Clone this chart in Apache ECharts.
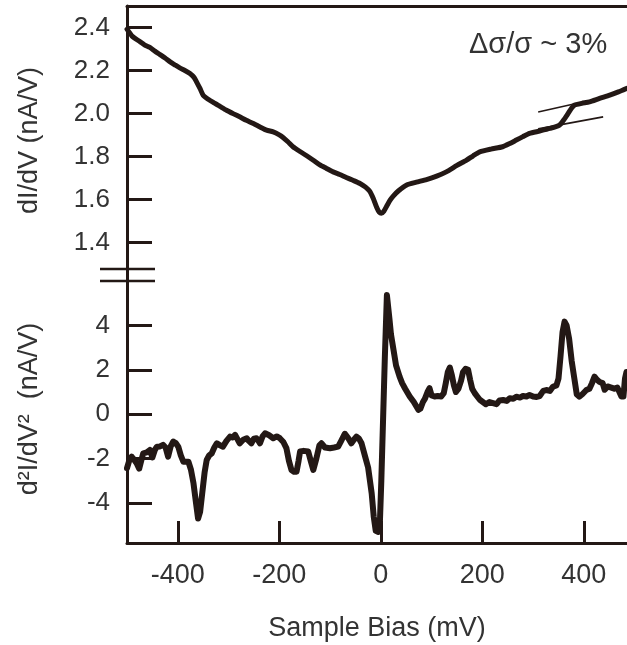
<!DOCTYPE html>
<html>
<head>
<meta charset="utf-8">
<script src="https://cdn.jsdelivr.net/npm/echarts@6/dist/echarts.min.js"></script>
<style>
html,body{margin:0;padding:0;background:#fff;}
#chart{width:627px;height:645px;}
</style>
</head>
<body>
<div id="chart"></div>
<script>
// Top panel: dI/dV (nA/V) vs sample bias (mV)
const biasTop = [-500,-490,-474,-465,-455,-445,-435,-425,-415,-405,-396,-386,-376,-368,-363,-356,-350,-340,-330,-317,-304,-290,-278,-265,-251,-238,-225,-212,-200,-192,-183,-173,-160,-146,-133,-120,-107,-94,-81,-68,-55,-41,-30,-22,-15,-8,-3,1,6,12,18,24,35,51,70,90,110,129,150,169,182,195,217,240,254,267,280,293,313,333,352,361,369,376,382,396,411,431,451,468,485];
const didv = [2.392,2.360,2.333,2.318,2.307,2.290,2.274,2.258,2.240,2.225,2.212,2.200,2.186,2.168,2.147,2.115,2.085,2.066,2.051,2.033,2.015,1.998,1.984,1.968,1.953,1.937,1.922,1.914,1.900,1.887,1.868,1.845,1.824,1.803,1.782,1.760,1.744,1.728,1.716,1.702,1.689,1.674,1.657,1.638,1.605,1.562,1.540,1.535,1.545,1.570,1.595,1.614,1.640,1.667,1.680,1.692,1.708,1.728,1.758,1.783,1.803,1.821,1.834,1.845,1.860,1.876,1.892,1.907,1.918,1.930,1.946,1.972,2.000,2.025,2.039,2.047,2.054,2.070,2.085,2.100,2.117];

// Tangent guide lines (bias, dI/dV)
const guideLowBias = [310, 438];
const guideLowVal = [1.928, 1.984];
const guideHighBias = [310, 400];
const guideHighVal = [2.007, 2.054];

// Bottom panel: d2I/dV2 (nA/V) vs sample bias (mV)
const biasBot = [-500,-495,-491,-486,-481,-476,-472,-468,-461,-455,-450,-445,-441,-435,-429,-424,-419,-414,-409,-404,-399,-394,-389,-379,-374,-369,-364,-360,-356,-352,-347,-343,-338,-333,-328,-323,-317,-311,-304,-297,-292,-287,-283,-278,-271,-264,-260,-255,-250,-245,-241,-238,-233,-228,-220,-212,-205,-199,-192,-186,-181,-176,-171,-166,-162,-159,-152,-143,-138,-133,-127,-121,-117,-110,-100,-92,-84,-78,-71,-65,-58,-53,-48,-43,-38,-31,-25,-18,-14,-10,-5,-2,1,4,8,12,14,17,20,25,30,37,42,48,57,65,74,78,83,87,92,96,100,106,112,119,124,128,132,136,140,144,148,153,158,162,167,172,176,180,185,190,195,201,207,214,221,228,234,241,248,254,261,267,274,280,287,293,300,307,313,320,326,333,339,346,350,354,358,362,366,371,376,381,386,391,397,405,411,416,421,426,431,437,441,447,454,460,466,470,474,478,481,484];
const d2idv2 = [-2.43,-2.05,-1.91,-2.05,-2.21,-2.45,-2.1,-1.76,-1.72,-1.61,-1.95,-1.6,-1.46,-1.45,-1.38,-1.5,-1.91,-1.45,-1.23,-1.3,-1.46,-1.85,-2.14,-2.14,-2.5,-3.11,-4.0,-4.7,-4.4,-3.6,-2.6,-2.06,-1.85,-1.76,-1.5,-1.31,-1.4,-1.46,-1.2,-1.01,-1.05,-0.93,-1.1,-1.31,-1.15,-1.08,-1.2,-1.31,-1.1,-1.08,-1.2,-1.31,-1.0,-0.86,-0.95,-1.08,-1.0,-1.08,-1.25,-1.53,-2.1,-2.51,-2.59,-2.59,-2.1,-1.68,-1.65,-1.68,-2.1,-2.51,-2.0,-1.4,-1.31,-1.5,-1.53,-1.5,-1.46,-1.2,-0.88,-1.05,-1.31,-1.15,-1.01,-1.1,-1.31,-1.9,-2.4,-3.56,-4.6,-5.25,-5.3,-5.0,-3.0,-0.6,2.6,5.37,5.3,4.3,3.6,2.9,2.2,1.69,1.4,1.15,0.8,0.55,0.2,0.25,0.55,0.7,1.0,1.17,0.85,0.8,0.82,0.8,0.95,1.4,1.9,2.1,1.75,1.3,1.0,1.15,1.5,1.9,2.05,2.0,1.55,1.15,0.95,0.8,0.65,0.55,0.45,0.55,0.5,0.45,0.62,0.64,0.6,0.72,0.7,0.79,0.75,0.82,0.8,0.87,0.8,0.78,0.82,1.05,1.09,1.05,1.24,1.3,1.6,2.6,3.7,4.17,4.0,3.4,2.4,1.65,0.9,0.79,0.9,1.09,1.15,1.4,1.69,1.55,1.45,1.4,1.1,1.25,1.2,1.15,1.2,1.0,0.8,0.8,1.6,1.9];

// Axis ticks / labels
const xTicks = [-400, -200, 0, 200, 400];
const yTopTicks = [1.4, 1.6, 1.8, 2.0, 2.2, 2.4];
const yBotTicks = [-4, -2, 0, 2, 4];

const INK = '#231815';
const TXT = '#333333';
const FONT = 'Liberation Sans';

const zip = (a, b) => a.map((v, i) => [v, b[i]]);

const chart = echarts.init(document.getElementById('chart'), null, {renderer: 'canvas'});
chart.setOption({
  animation: false,
  backgroundColor: '#ffffff',
  textStyle: {fontFamily: FONT, color: TXT},
  grid: [
    {left: 127, right: 0, top: 6, height: 269},
    {left: 127, right: 0, top: 275, height: 268}
  ],
  xAxis: [
    {
      gridIndex: 0, type: 'value', min: -500, max: 485, position: 'top',
      axisLine: {onZero: false, lineStyle: {color: INK, width: 3}},
      axisTick: {show: false}, axisLabel: {show: false}, splitLine: {show: false}
    },
    {
      gridIndex: 1, type: 'value', min: -500, max: 485, position: 'bottom',
      axisLine: {onZero: false, lineStyle: {color: INK, width: 3}},
      axisTick: {inside: true, length: 22, lineStyle: {color: INK, width: 3}, customValues: xTicks},
      axisLabel: {customValues: xTicks, fontSize: 27, margin: 19, color: TXT, fontFamily: FONT},
      splitLine: {show: false},
      name: 'Sample Bias (mV)', nameLocation: 'middle', nameGap: 72,
      nameTextStyle: {fontSize: 27, color: TXT, fontFamily: FONT}
    }
  ],
  yAxis: [
    {
      gridIndex: 0, type: 'value', min: 1.248, max: 2.5,
      axisLine: {onZero: false, lineStyle: {color: INK, width: 3}},
      axisTick: {inside: true, length: 25, lineStyle: {color: INK, width: 3}, customValues: yTopTicks},
      axisLabel: {customValues: yTopTicks, formatter: v => v.toFixed(1), fontSize: 26, margin: 17, color: TXT, fontFamily: FONT},
      splitLine: {show: false},
      name: 'dI/dV (nA/V)', nameLocation: 'middle', nameGap: 84, nameRotate: 90,
      nameTextStyle: {fontSize: 27, color: TXT, fontFamily: FONT}
    },
    {
      gridIndex: 1, type: 'value', min: -5.8, max: 6.27,
      axisLine: {onZero: false, lineStyle: {color: INK, width: 3}},
      axisTick: {inside: true, length: 25, lineStyle: {color: INK, width: 3}, customValues: yBotTicks},
      axisLabel: {customValues: yBotTicks, fontSize: 26, margin: 17, color: TXT, fontFamily: FONT},
      splitLine: {show: false},
      name: 'd\u00b2I/dV\u00b2  (nA/V)', nameLocation: 'middle', nameGap: 84, nameRotate: 90,
      nameTextStyle: {fontSize: 27, color: TXT, fontFamily: FONT}
    }
  ],
  series: [
    {
      type: 'line', xAxisIndex: 0, yAxisIndex: 0, data: zip(biasTop, didv),
      showSymbol: false, smooth: 0.2, lineStyle: {color: INK, width: 5, join: 'round', cap: 'round'}
    },
    {
      type: 'line', xAxisIndex: 0, yAxisIndex: 0, data: zip(guideLowBias, guideLowVal),
      showSymbol: false, lineStyle: {color: INK, width: 1.6}
    },
    {
      type: 'line', xAxisIndex: 0, yAxisIndex: 0, data: zip(guideHighBias, guideHighVal),
      showSymbol: false, lineStyle: {color: INK, width: 1.6}
    },
    {
      type: 'line', xAxisIndex: 1, yAxisIndex: 1, data: zip(biasBot, d2idv2),
      showSymbol: false, lineStyle: {color: INK, width: 6, join: 'round', cap: 'round'}
    }
  ],
  graphic: [
    {type: 'line', shape: {x1: 100, y1: 269, x2: 155, y2: 269}, style: {stroke: INK, lineWidth: 2.5}},
    {type: 'line', shape: {x1: 100, y1: 281, x2: 155, y2: 281}, style: {stroke: INK, lineWidth: 2.5}},
    {type: 'text', x: 469, y: 45, style: {text: '\u0394\u03c3/\u03c3 ~ 3%', font: '29px "Liberation Sans"', fill: TXT, verticalAlign: 'middle', align: 'left'}}
  ]
});
</script>
</body>
</html>
